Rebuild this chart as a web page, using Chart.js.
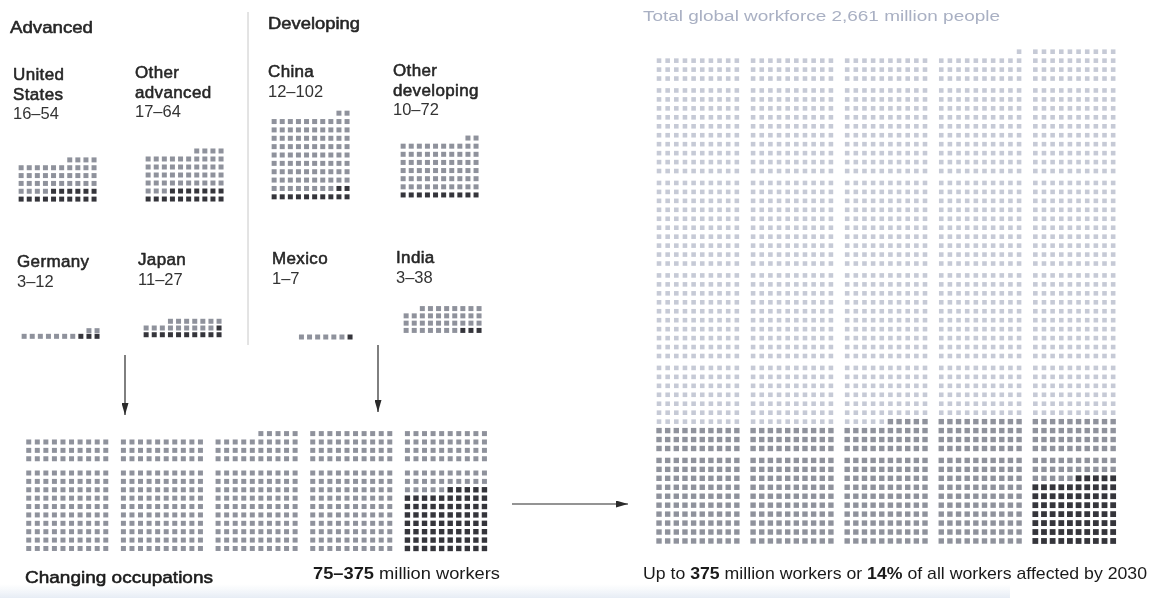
<!DOCTYPE html>
<html>
<head>
<meta charset="utf-8">
<title>Workers affected by automation</title>
<script src="https://cdn.jsdelivr.net/npm/chart.js@4/dist/chart.umd.min.js"></script>
<style>
  html, body { margin: 0; padding: 0; background: #fff; }
  #stage { position: relative; width: 1151px; height: 598px; overflow: hidden; background: #fff; }
  #stage canvas { position: absolute; }
  #overlay { position: absolute; left: 0; top: 0; pointer-events: none; font-family: "Liberation Sans", Arial, Helvetica, sans-serif; }
  .medium { stroke-width: 0.55px; paint-order: stroke; stroke-linejoin: round; }
</style>
</head>
<body>
<div id="stage">
  <svg id="overlay" width="1151" height="598" xmlns="http://www.w3.org/2000/svg">
    <defs>
      <marker id="arrowHead" viewBox="0 0 12 7" refX="12" refY="3.5" markerWidth="12" markerHeight="7" markerUnits="userSpaceOnUse" orient="auto">
        <path d="M0,0 L12,3.5 L0,7 z" fill="#2b2b2b"/>
      </marker>
      <linearGradient id="haze" x1="0" y1="0" x2="0" y2="1">
        <stop offset="0" stop-color="#e3eaf4" stop-opacity="0"/>
        <stop offset="1" stop-color="#dbe4f0" stop-opacity="0.7"/>
      </linearGradient>
    </defs>
    <rect x="0" y="584" width="1010" height="14" fill="url(#haze)"/>
    <line x1="248" y1="12" x2="248" y2="345" stroke="#c8c8c8" stroke-width="1"/>
    <line x1="125" y1="355" x2="125" y2="415" stroke="#2b2b2b" stroke-width="1.2" marker-end="url(#arrowHead)"/>
    <line x1="378" y1="345" x2="378" y2="412" stroke="#2b2b2b" stroke-width="1.2" marker-end="url(#arrowHead)"/>
    <line x1="512" y1="504" x2="628" y2="504" stroke="#2b2b2b" stroke-width="1.2" marker-end="url(#arrowHead)"/>
  </svg>
</div>
<script>
// Workers displaced by automation by 2030, millions (low – high scenario)
const countries = ['United States', 'Other advanced', 'Germany', 'Japan', 'China', 'Other developing', 'Mexico', 'India'];
const lowEstimate = [16, 17, 3, 11, 12, 10, 1, 3];
const highEstimate = [54, 64, 12, 27, 102, 72, 7, 38];

// Column totals of the aggregate grids (one square = one million workers)
const changingColumns = [130, 130, 135, 140, 140];
const lowColumns = [0, 0, 0, 0, 75];
const workforceColumns = [530, 530, 530, 531, 540];

const groupTitles = ['Advanced', 'Developing'];

// ---------- layout & style ----------
const COLORS = {
  dark: '#35353b',
  mid: '#8f929c',
  light: '#c6cad6',
  text: '#262626',
  number: '#333333',
  title: '#a9b0c3'
};

// Label position (x, first baseline) and centre of the bottom-left cell of each grid
const countryPanels = [
  { lx: 13,  ly: 80,  gx: 18,  gy: 202 },
  { lx: 135, ly: 78,  gx: 145, gy: 202 },
  { lx: 17,  ly: 267, gx: 21,  gy: 338 },
  { lx: 138, ly: 265, gx: 143, gy: 337 },
  { lx: 268, ly: 77,  gx: 271, gy: 200 },
  { lx: 393, ly: 76,  gx: 400, gy: 198 },
  { lx: 272, ly: 264, gx: 274, gy: 337 },
  { lx: 396, ly: 263, gx: 403, gy: 333 }
];
const SMALL = { colPx: 8.8, rowPx: 9, cell: 5 };
const CHANGING = { x0: 25, y0: 552, colPx: 8.7, rowPx: 8.9, strideX: 11.06, strideY: 10.7, cell: 5 };
const WORKFORCE = { x0: 655, y0: 545, colPx: 8.8, rowPx: 9.1, strideX: 10.88, strideY: 10.33, cell: 4.6, strongCell: 5.4 };

const stage = document.getElementById('stage');

// One Chart.js scatter per grid; scales are in cell units
function waffle(datasets, lay) {
  let xMaxU = 0, yMaxU = 0;
  datasets.forEach(d => d.data.forEach(p => { xMaxU = Math.max(xMaxU, p.x); yMaxU = Math.max(yMaxU, p.y); }));
  const left = Math.round(lay.x0 - 0.6 * lay.colPx);
  const right = Math.round(lay.x0 + (xMaxU + 0.6) * lay.colPx);
  const bottom = Math.round(lay.y0 + 0.6 * lay.rowPx);
  const top = Math.round(lay.y0 - (yMaxU + 0.6) * lay.rowPx);
  const cv = document.createElement('canvas');
  cv.width = right - left; cv.height = bottom - top;
  cv.style.left = left + 'px'; cv.style.top = top + 'px';
  cv.style.width = cv.width + 'px'; cv.style.height = cv.height + 'px';
  stage.insertBefore(cv, stage.firstChild);
  new Chart(cv, {
    type: 'scatter',
    data: {
      datasets: datasets.map(d => ({
        data: d.data,
        pointStyle: 'rect',
        pointRadius: d.cell / Math.SQRT2,
        pointHoverRadius: d.cell / Math.SQRT2,
        backgroundColor: d.color,
        pointBackgroundColor: d.color,
        borderWidth: 0,
        pointBorderWidth: 0,
        clip: false
      }))
    },
    options: {
      responsive: false,
      animation: false,
      devicePixelRatio: 1,
      events: [],
      layout: { padding: 0 },
      plugins: { legend: { display: false }, tooltip: { enabled: false } },
      scales: {
        x: { type: 'linear', display: false, min: (left - lay.x0) / lay.colPx, max: (right - lay.x0) / lay.colPx },
        y: { type: 'linear', display: false, min: (lay.y0 - bottom) / lay.rowPx, max: (lay.y0 - top) / lay.rowPx }
      }
    }
  });
}

// Cells fill from the bottom row, right to left
function cellOf(i) {
  return { col: 9 - (i % 10), row: Math.floor(i / 10) };
}

// Country grids
countries.forEach((name, k) => {
  const dark = [], light = [];
  for (let i = 0; i < highEstimate[k]; i++) {
    const c = cellOf(i);
    (i < lowEstimate[k] ? dark : light).push({ x: c.col, y: c.row });
  }
  const p = countryPanels[k];
  waffle([
    { data: light, color: COLORS.mid, cell: SMALL.cell },
    { data: dark, color: COLORS.dark, cell: SMALL.cell }
  ], { x0: p.gx, y0: p.gy, colPx: SMALL.colPx, rowPx: SMALL.rowPx });
});

// Blocks of 100 stacked per column
function blockCell(c, i, lay) {
  const b = Math.floor(i / 100), w = i % 100;
  const cell = cellOf(w);
  return { x: c * lay.strideX + cell.col, y: b * lay.strideY + cell.row };
}

// Changing occupations grid
(function () {
  const dark = [], light = [];
  changingColumns.forEach((n, c) => {
    for (let i = 0; i < n; i++) {
      (i < lowColumns[c] ? dark : light).push(blockCell(c, i, CHANGING));
    }
  });
  waffle([
    { data: light, color: COLORS.mid, cell: CHANGING.cell },
    { data: dark, color: COLORS.dark, cell: CHANGING.cell + 0.4 }
  ], CHANGING);
})();

// Global workforce grid
(function () {
  const dark = [], mid = [], light = [];
  workforceColumns.forEach((n, c) => {
    for (let i = 0; i < n; i++) {
      const p = blockCell(c, i, WORKFORCE);
      if (i < lowColumns[c]) dark.push(p);
      else if (i < changingColumns[c]) mid.push(p);
      else light.push(p);
    }
  });
  waffle([
    { data: light, color: COLORS.light, cell: WORKFORCE.cell },
    { data: mid, color: COLORS.mid, cell: WORKFORCE.strongCell },
    { data: dark, color: COLORS.dark, cell: WORKFORCE.strongCell + 0.4 }
  ], WORKFORCE);
})();

// ---------- text ----------
const SVGNS = 'http://www.w3.org/2000/svg';
const overlay = document.getElementById('overlay');
function addText(x, y, parts, o) {
  const t = document.createElementNS(SVGNS, 'text');
  const fill = o.fill || COLORS.text;
  t.setAttribute('x', x);
  t.setAttribute('y', y);
  t.setAttribute('font-size', o.size);
  t.setAttribute('fill', fill);
  if (o.weight) t.setAttribute('font-weight', o.weight);
  if (o.medium) { t.setAttribute('class', 'medium'); t.setAttribute('stroke', fill); }
  if (o.spacing) t.setAttribute('letter-spacing', o.spacing);
  if (o.width) {
    t.setAttribute('textLength', o.width);
    t.setAttribute('lengthAdjust', 'spacingAndGlyphs');
  }
  (typeof parts === 'string' ? [[parts]] : parts).forEach(([s, w]) => {
    const ts = document.createElementNS(SVGNS, 'tspan');
    if (w) ts.setAttribute('font-weight', w);
    ts.textContent = s;
    t.appendChild(ts);
  });
  overlay.appendChild(t);
}

addText(10, 33, groupTitles[0], { size: 16.5, medium: true, width: 83 });
addText(268, 29, groupTitles[1], { size: 16.5, medium: true, width: 92 });

countries.forEach((name, k) => {
  const p = countryPanels[k];
  const lines = name.split(' ');
  lines.forEach((ln, j) => addText(p.lx, p.ly + j * 19.5, ln, { size: 17, medium: true, spacing: 0.35 }));
  addText(p.lx, p.ly + lines.length * 19.5, lowEstimate[k] + '\u2013' + highEstimate[k], { size: 16.5, fill: COLORS.number });
});

const totalWorkforce = workforceColumns.reduce((a, b) => a + b, 0);
addText(643, 21, 'Total global workforce ' + totalWorkforce.toLocaleString('en-US') + ' million people',
  { size: 15.5, fill: COLORS.title, width: 357 });

addText(25, 583, 'Changing occupations', { size: 17, medium: true, width: 188, fill: '#1a1a1a' });
addText(313, 579, [['75\u2013375', 'bold'], [' million workers']], { size: 17, width: 187, fill: '#1a1a1a' });
addText(643, 579, [['Up to '], ['375', 'bold'], [' million workers or '], ['14%', 'bold'], [' of all workers affected by 2030']],
  { size: 17, width: 504, fill: '#1a1a1a' });
</script>
</body>
</html>
